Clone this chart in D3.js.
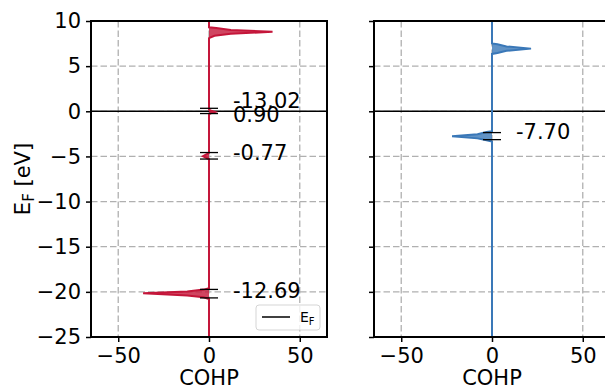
<!DOCTYPE html>
<html>
<head>
<meta charset="utf-8">
<script src="https://cdn.jsdelivr.net/npm/d3@7"></script>
<style>
body { margin: 0; background: #fff; }
text { font-family: "DejaVu Sans", sans-serif; }
</style>
</head>
<body>
<svg id="chart" width="605" height="389"></svg>
<script>
// energies (eV) and COHP values
var leftEnergy = [-25, -20.8, -20.6, -20.4, -20.15, -19.95, -19.75, -19.6, -5.3, -5.2, -4.98, -4.72, -4.6, -0.35, -0.22, -0.08, 0.06, 0.18, 8.1, 8.36, 8.6, 8.8, 9.0, 9.22, 9.3, 10];
var leftCohp   = [0, 0, -3, -12, -36.3, -12, -3, 0, 0, -1, -3.3, -1, 0, 0, 1, 3.3, 1.2, 0, 0, 3, 12, 35, 12, 4, 0, 0];
var rightEnergy = [-25, -3.35, -3.2, -3.0, -2.77, -2.55, -2.3, -2.2, 6.35, 6.46, 6.7, 6.94, 7.18, 7.42, 7.52, 10];
var rightCohp   = [0, 0, -3, -8, -22, -8, -3, 0, 0, 3, 8, 21.5, 8, 3, 0, 0];

var yTicks = [-25, -20, -15, -10, -5, 0, 5, 10];
var xTicks = [-50, 0, 50];

// peak markers (centre, half height) and their labels
var leftMarkE = [0.04, -4.93, -20.2];
var leftMarkErr = [0.29, 0.36, 0.47];
var leftLabels = ["-13.02", "0.90", "-0.77", "-12.69"];
var leftLabelE = [1.22, -0.3, -4.6, -19.8];
var rightMarkE = [-2.75];
var rightMarkErr = [0.39];
var rightLabels = ["-7.70"];
var rightLabelE = [-2.27];

var svg = d3.select("#chart");
var plotTop = 21, plotBottom = 337, pw = 236;

var y = d3.scaleLinear().domain([-25, 10]).range([plotBottom, plotTop]);

function fmt(d) { return d < 0 ? "\u2212" + Math.abs(d) : "" + d; }

function panel(x0, energy, cohp, color, marksE, marksErr, labels, labelE, first) {
  var x = d3.scaleLinear().domain([-65, 65]).range([x0, x0 + pw]);
  var g = svg.append("g");

  // grid
  g.selectAll(".gy").data(yTicks).enter().append("line")
    .attr("x1", x0).attr("x2", x0 + pw)
    .attr("y1", function(d) { return y(d); }).attr("y2", function(d) { return y(d); })
    .attr("stroke", "#b0b0b0").attr("stroke-width", 1.3).attr("stroke-dasharray", "6.5,3");
  g.selectAll(".gx").data(xTicks).enter().append("line")
    .attr("y1", plotTop).attr("y2", plotBottom)
    .attr("x1", function(d) { return x(d); }).attr("x2", function(d) { return x(d); })
    .attr("stroke", "#b0b0b0").attr("stroke-width", 1.3).attr("stroke-dasharray", "6.5,3");

  // Fermi level
  g.append("line").attr("x1", x0).attr("x2", x0 + pw)
    .attr("y1", y(0)).attr("y2", y(0))
    .attr("stroke", "#000").attr("stroke-width", 1.4);

  var pts = energy.map(function(e, i) { return {e: e, c: cohp[i]}; });
  g.append("path").datum(pts)
    .attr("d", d3.area().y(function(d) { return y(d.e); }).x0(x(0)).x1(function(d) { return x(d.c); }))
    .attr("fill", color).attr("fill-opacity", 0.8);
  g.append("path").datum(pts)
    .attr("d", d3.line().y(function(d) { return y(d.e); }).x(function(d) { return x(d.c); }))
    .attr("fill", "none").attr("stroke", color).attr("stroke-width", 2);

  // peak markers
  marksE.forEach(function(e, i) {
    [e - marksErr[i], e + marksErr[i]].forEach(function(v) {
      g.append("line").attr("x1", x(0) - 9).attr("x2", x(0) + 9)
        .attr("y1", y(v)).attr("y2", y(v))
        .attr("stroke", "#000").attr("stroke-width", 1.3);
    });
  });
  labels.forEach(function(t, i) {
    g.append("text").attr("x", x(13.2)).attr("y", y(labelE[i])).attr("dy", "0.36em")
      .attr("font-size", 21).attr("fill", "#000").text(t);
  });

  // axes
  var ax = g.append("g").attr("transform", "translate(0," + plotBottom + ")")
    .call(d3.axisBottom(x).tickValues(xTicks).tickSize(5).tickPadding(6).tickFormat(fmt));
  var ay = g.append("g").attr("transform", "translate(" + x0 + ",0)")
    .call(d3.axisLeft(y).tickValues(yTicks).tickSize(5).tickPadding(5)
      .tickFormat(first ? fmt : function() { return ""; }));
  [ax, ay].forEach(function(a) {
    a.select(".domain").remove();
    a.selectAll("line").attr("stroke", "#000").attr("stroke-width", 1.5);
    a.selectAll("text").attr("font-size", 21).attr("fill", "#000")
      .attr("font-family", "DejaVu Sans, sans-serif");
  });

  g.append("rect").attr("x", x0).attr("y", plotTop).attr("width", pw).attr("height", plotBottom - plotTop)
    .attr("fill", "none").attr("stroke", "#000").attr("stroke-width", 2);

  g.append("text").attr("x", x(0)).attr("y", 385).attr("text-anchor", "middle")
    .attr("font-size", 21).text("COHP");
  return x;
}

panel(91, leftEnergy, leftCohp, "#c4163a", leftMarkE, leftMarkErr, leftLabels, leftLabelE, true);
panel(374, rightEnergy, rightCohp, "#3a78b8", rightMarkE, rightMarkErr, rightLabels, rightLabelE, false);

// y label
var yl = svg.append("text").attr("transform", "translate(30," + (plotTop + plotBottom) / 2 + ") rotate(-90)")
  .attr("text-anchor", "middle").attr("font-size", 21);
yl.append("tspan").text("E");
yl.append("tspan").attr("font-size", 15).attr("dy", 4).text("F");
yl.append("tspan").attr("dy", -4).text(" [eV]");

// legend
var lg = svg.append("g");
lg.append("rect").attr("x", 256).attr("y", 305).attr("width", 64).attr("height", 25)
  .attr("rx", 3).attr("fill", "#fff").attr("fill-opacity", 0.8)
  .attr("stroke", "#d5d5d5").attr("stroke-width", 1);
lg.append("line").attr("x1", 262).attr("x2", 290).attr("y1", 317).attr("y2", 317)
  .attr("stroke", "#000").attr("stroke-width", 1.5);
var lt = lg.append("text").attr("x", 300).attr("y", 322).attr("font-size", 14);
lt.append("tspan").text("E");
lt.append("tspan").attr("font-size", 10).attr("dy", 3).text("F");
</script>
</body>
</html>
